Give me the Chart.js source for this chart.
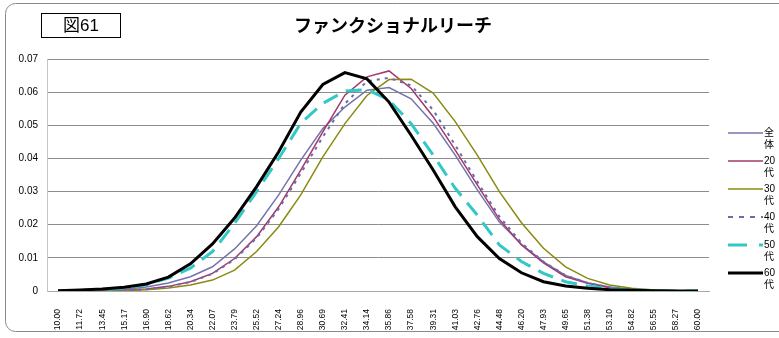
<!DOCTYPE html>
<html>
<head>
<meta charset="utf-8">
<script src="https://cdn.jsdelivr.net/npm/chart.js@4.4.0/dist/chart.umd.min.js"></script>
<style>
  body { margin: 0; background: #fff; }
  canvas { display: block; }
</style>
</head>
<body>
<canvas id="reachChart" width="779" height="338"></canvas>
<script>
const xLabels = ['10.00', '11.72', '13.45', '15.17', '16.90', '18.62', '20.34', '22.07', '23.79', '25.52',
    '27.24', '28.96', '30.69', '32.41', '34.14', '35.86', '37.58', '39.31', '41.03', '42.76',
    '44.48', '46.20', '47.93', '49.65', '51.38', '53.10', '54.82', '56.55', '58.27', '60.00'];

const seriesNames = ['全体', '20代', '30代', '40代', '50代', '60代'];

const allAges = [0.0000, 0.0001, 0.0002, 0.0005, 0.0012, 0.0024, 0.0043, 0.0073, 0.0127, 0.0197,
    0.0290, 0.0395, 0.0490, 0.0555, 0.0606, 0.0614, 0.0580, 0.0506, 0.0410, 0.0305,
    0.0208, 0.0141, 0.0088, 0.0047, 0.0025, 0.0012, 0.0005, 0.0002, 0.0001, 0.0000];
const age20 = [0.0000, 0.0000, 0.0001, 0.0002, 0.0006, 0.0014, 0.0028, 0.0053, 0.0098, 0.0164,
    0.0254, 0.0365, 0.0480, 0.0591, 0.0646, 0.0664, 0.0611, 0.0526, 0.0425, 0.0320,
    0.0216, 0.0139, 0.0085, 0.0043, 0.0023, 0.0010, 0.0004, 0.0001, 0.0000, 0.0000];
const age30 = [0.0000, 0.0000, 0.0000, 0.0001, 0.0004, 0.0009, 0.0018, 0.0033, 0.0063, 0.0119,
    0.0194, 0.0290, 0.0405, 0.0505, 0.0590, 0.0638, 0.0639, 0.0597, 0.0511, 0.0410,
    0.0300, 0.0206, 0.0129, 0.0073, 0.0038, 0.0018, 0.0008, 0.0003, 0.0001, 0.0000];
const age40 = [0.0000, 0.0000, 0.0001, 0.0002, 0.0005, 0.0013, 0.0027, 0.0052, 0.0095, 0.0160,
    0.0248, 0.0355, 0.0465, 0.0565, 0.0633, 0.0643, 0.0620, 0.0546, 0.0440, 0.0330,
    0.0225, 0.0145, 0.0088, 0.0047, 0.0024, 0.0011, 0.0004, 0.0001, 0.0000, 0.0000];
const age50 = [0.0001, 0.0002, 0.0004, 0.0009, 0.0019, 0.0039, 0.0069, 0.0119, 0.0204, 0.0300,
    0.0400, 0.0506, 0.0566, 0.0603, 0.0608, 0.0576, 0.0505, 0.0410, 0.0310, 0.0229,
    0.0139, 0.0089, 0.0053, 0.0028, 0.0015, 0.0007, 0.0003, 0.0001, 0.0000, 0.0000];
const age60 = [0.0001, 0.0003, 0.0006, 0.0011, 0.0021, 0.0042, 0.0082, 0.0142, 0.0220, 0.0315,
    0.0420, 0.0540, 0.0623, 0.0659, 0.0640, 0.0570, 0.0470, 0.0365, 0.0254, 0.0164,
    0.0098, 0.0055, 0.0028, 0.0015, 0.0008, 0.0004, 0.0002, 0.0001, 0.0000, 0.0000];

const seriesValues = [allAges, age20, age30, age40, age50, age60];
const yTicks = [0, 0.01, 0.02, 0.03, 0.04, 0.05, 0.06, 0.07];

const styles = [
    { color: '#7474ac', width: 1.5, dash: [] },
    { color: '#a3386a', width: 1.5, dash: [] },
    { color: '#8a8a10', width: 1.5, dash: [] },
    { color: '#6a6ab0', width: 2, dash: [3, 5], legendDash: [5, 6] },
    { color: '#33c8c8', width: 3, dash: [16, 9], legendDash: [19, 12] },
    { color: '#000000', width: 3, dash: [] }
];

const CJK = '"Liberation Sans", "Noto Sans CJK JP", sans-serif';

// frame, figure number box, title and the stacked legend on the right
const decorations = {
    id: 'decorations',
    beforeDraw(chart) {
        const ctx = chart.ctx;
        ctx.save();
        ctx.strokeStyle = '#8a8a8a';
        ctx.lineWidth = 1;
        ctx.beginPath();
        ctx.roundRect(5.5, 3.5, 800, 328, 10);
        ctx.stroke();

        ctx.strokeStyle = '#000';
        ctx.strokeRect(41.5, 13.5, 79, 24);
        ctx.fillStyle = '#000';
        ctx.font = '17px ' + CJK;
        ctx.textAlign = 'center';
        ctx.textBaseline = 'middle';
        ctx.fillText('図61', 81, 26);

        ctx.font = 'bold 18px "Noto Sans CJK JP", sans-serif';
        ctx.fillText('ファンクショナルリーチ', 393, 25);
        ctx.restore();
    },
    afterDraw(chart) {
        const ctx = chart.ctx;
        ctx.save();
        chart.data.datasets.forEach((ds, i) => {
            const y = 133 + 28 * i;
            const st = styles[i];
            ctx.strokeStyle = st.color;
            ctx.lineWidth = st.width;
            ctx.setLineDash(st.legendDash || []);
            ctx.beginPath();
            ctx.moveTo(728, y);
            ctx.lineTo(763, y);
            ctx.stroke();
            ctx.setLineDash([]);
            ctx.fillStyle = '#000';
            ctx.font = '10px ' + CJK;
            ctx.textAlign = 'left';
            ctx.textBaseline = 'middle';
            ctx.fillText(ds.label.slice(0, -1), 764, y);
            ctx.fillText(ds.label.slice(-1), 764, y + 12);
        });
        ctx.restore();
    }
};

new Chart(document.getElementById('reachChart').getContext('2d'), {
    type: 'line',
    data: {
        labels: xLabels,
        datasets: seriesNames.map((name, i) => ({
            label: name,
            data: seriesValues[i],
            borderColor: styles[i].color,
            borderWidth: styles[i].width,
            borderDash: styles[i].dash,
            pointRadius: 0,
            tension: 0,
            fill: false,
            order: 6 - i
        }))
    },
    options: {
        responsive: false,
        animation: false,
        layout: { padding: { left: 0, top: 59, right: 70, bottom: 0 } },
        plugins: {
            legend: { display: false },
            title: { display: false },
            tooltip: { enabled: false }
        },
        scales: {
            x: {
                offset: true,
                grid: { display: false },
                border: { color: '#a8a8a8' },
                ticks: {
                    color: '#000',
                    font: { size: 8.5, family: 'Liberation Sans' },
                    minRotation: 90,
                    maxRotation: 90,
                    autoSkip: false,
                    padding: 10
                },
                afterFit(scale) { scale.height = 47; }
            },
            y: {
                min: 0,
                max: 0.07,
                afterBuildTicks(scale) { scale.ticks = yTicks.map(v => ({ value: v })); },
                grid: { color: '#8c8c8c', drawTicks: false },
                border: { color: '#c4c4c4' },
                ticks: {
                    color: '#000',
                    font: { size: 10, family: 'Liberation Sans' },
                    padding: 9,
                    callback: v => (v === 0 ? '0' : v.toFixed(2))
                },
                afterFit(scale) { scale.width = 47; }
            }
        }
    },
    plugins: [decorations]
});
</script>
</body>
</html>
